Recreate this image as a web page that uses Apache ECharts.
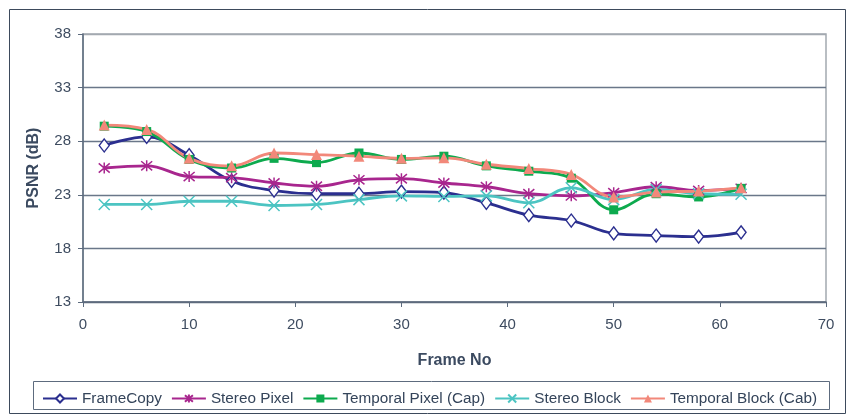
<!DOCTYPE html>
<html>
<head>
<meta charset="utf-8">
<script src="https://cdn.jsdelivr.net/npm/echarts@6/dist/echarts.min.js"></script>
<style>
  html, body { margin: 0; padding: 0; background: #fff; }
  #chart { width: 853px; height: 417px; }
</style>
</head>
<body>
<div id="chart"></div>
<script>
// Frame numbers sampled along the sequence
const frames = [2, 6, 10, 14, 18, 22, 26, 30, 34, 38, 42, 46, 50, 54, 58, 62];

// PSNR (dB) per method
const frameCopy      = [27.6, 28.4, 26.7, 24.3, 23.4, 23.1, 23.1, 23.3, 23.2, 22.25, 21.1, 20.6, 19.4, 19.2, 19.1, 19.5];
const stereoPixel    = [25.5, 25.7, 24.7, 24.6, 24.1, 23.8, 24.4, 24.5, 24.1, 23.75, 23.1, 22.9, 23.2, 23.75, 23.4, 23.6];
const temporalPixel  = [29.4, 28.9, 26.3, 25.5, 26.4, 26.0, 26.9, 26.3, 26.6, 25.7, 25.2, 24.55, 21.6, 23.1, 22.8, 23.6];
const stereoBlock    = [22.1, 22.1, 22.4, 22.4, 22.0, 22.1, 22.55, 22.9, 22.85, 22.9, 22.25, 23.65, 22.55, 23.5, 23.1, 23.05];
const temporalBlock  = [29.5, 29.1, 26.4, 25.7, 26.9, 26.75, 26.6, 26.4, 26.45, 25.85, 25.45, 24.9, 22.8, 23.25, 23.35, 23.65];

// Axis ticks
const yTicks = [13, 18, 23, 28, 33, 38];
const xTicks = [0, 10, 20, 30, 40, 50, 60, 70];

const pair = vals => frames.map((f, i) => [f, vals[i]]);

const asterisk = 'path://M0 0L10 10M10 0L0 10M5 -1L5 11';
const cross = 'path://M0 0L10 10M10 0L0 10';

const font = '"Liberation Sans", Arial, sans-serif';

function line(name, vals, color, symbol, size, extraItem) {
  return {
    name: name,
    type: 'line',
    data: pair(vals),
    smooth: 0.4,
    symbol: symbol,
    symbolSize: size,
    showSymbol: true,
    lineStyle: { color: color, width: 2.8 },
    itemStyle: Object.assign({ color: color }, extraItem || {}),
    emphasis: { disabled: true },
    z: 2
  };
}

const chart = echarts.init(document.getElementById('chart'), null, { renderer: 'canvas' });
chart.setOption({
  animation: false,
  backgroundColor: '#ffffff',
  grid: { left: 83, right: 27, top: 34, bottom: 115, show: true, borderColor: '#a3a9b0', borderWidth: 1.5 },
  xAxis: {
    type: 'value',
    min: xTicks[0],
    max: xTicks[xTicks.length - 1],
    interval: 10,
    name: 'Frame No',
    nameLocation: 'middle',
    nameGap: 51,
    nameTextStyle: { fontFamily: font, fontWeight: 'bold', fontSize: 16, color: '#3b4a60' },
    axisLine: { onZero: false, lineStyle: { color: '#5d6b7e', width: 1.5 } },
    axisTick: { show: true, length: 5, lineStyle: { color: '#5d6b7e' } },
    axisLabel: { fontFamily: font, fontSize: 15, color: '#3e4c60', margin: 15 },
    splitLine: { show: false }
  },
  yAxis: {
    type: 'value',
    min: yTicks[0],
    max: yTicks[yTicks.length - 1],
    interval: 5,
    name: 'PSNR (dB)',
    nameLocation: 'middle',
    nameGap: 41,
    nameTextStyle: { fontFamily: font, fontWeight: 'bold', fontSize: 16, color: '#3b4a60' },
    axisLine: { show: true, lineStyle: { color: '#5d6b7e', width: 1.5 } },
    axisTick: { show: true, length: 5, lineStyle: { color: '#5d6b7e' } },
    axisLabel: { fontFamily: font, fontSize: 15, color: '#3e4c60', margin: 12 },
    splitLine: {
      show: true,
      lineStyle: { color: ['#5d6b7e', '#6a7789', '#6a7789', '#6a7789', '#6a7789', '#a3a9b0'], width: 1.3 }
    }
  },
  legend: {
    left: 37,
    top: 386,
    itemWidth: 34,
    itemHeight: 10,
    itemGap: 9,
    textStyle: { fontFamily: font, fontSize: 15.3, color: '#34445a' },
    data: ['FrameCopy', 'Stereo Pixel', 'Temporal Pixel (Cap)', 'Stereo Block', 'Temporal Block (Cab)']
  },
  graphic: [
    {
      type: 'rect',
      silent: true,
      shape: { x: 9.5, y: 9.5, width: 836, height: 404 },
      style: { fill: 'none', stroke: '#3d4a5c', lineWidth: 1 },
      z: -1
    },
    {
      type: 'rect',
      silent: true,
      shape: { x: 33.5, y: 381.5, width: 796, height: 28 },
      style: { fill: 'none', stroke: '#5d6b7e', lineWidth: 1 },
      z: -1
    }
  ],
  series: [
    line('FrameCopy', frameCopy, '#2b2f8f', 'diamond', [10, 13], { color: '#ffffff', borderColor: '#2b2f8f', borderWidth: 1.4 }),
    line('Stereo Pixel', stereoPixel, '#a8268e', asterisk, 11, { borderColor: '#a8268e', borderWidth: 1.5 }),
    line('Temporal Pixel (Cap)', temporalPixel, '#0daa4e', 'rect', 9),
    line('Stereo Block', stereoBlock, '#4cc4c2', cross, 11, { borderColor: '#4cc4c2', borderWidth: 1.5 }),
    line('Temporal Block (Cab)', temporalBlock, '#f2887a', 'triangle', 11)
  ]
});
</script>
</body>
</html>
